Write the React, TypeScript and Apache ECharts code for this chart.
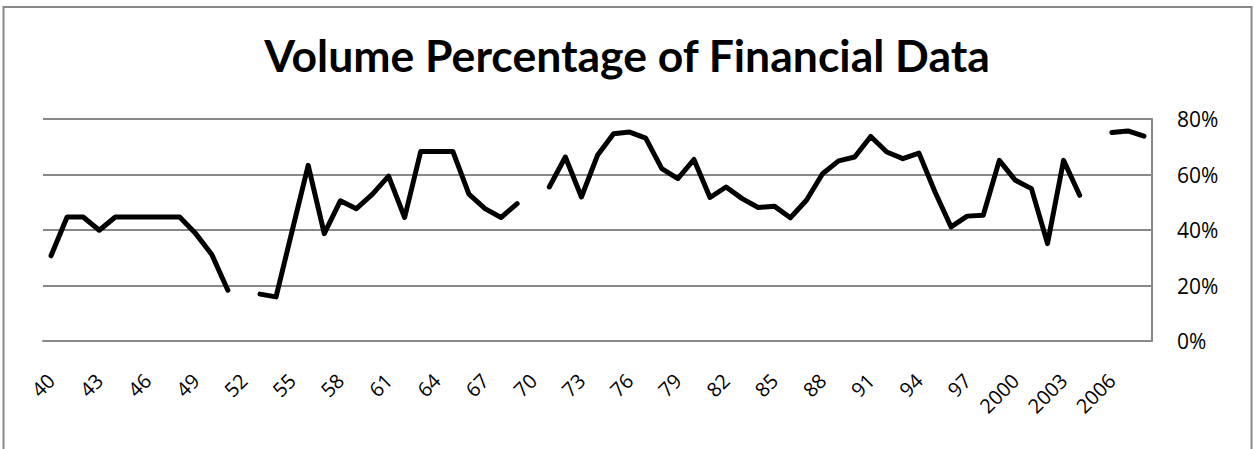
import React, { useEffect, useRef } from "react";
import * as echarts from "echarts";

const categories: string[] = [
  "40", "41", "42", "43", "44", "45", "46", "47", "48", "49",
  "50", "51", "52", "53", "54", "55", "56", "57", "58", "59",
  "60", "61", "62", "63", "64", "65", "66", "67", "68", "69",
  "70", "71", "72", "73", "74", "75", "76", "77", "78", "79",
  "80", "81", "82", "83", "84", "85", "86", "87", "88", "89",
  "90", "91", "92", "93", "94", "95", "96", "97", "98", "99",
  "2000", "2001", "2002", "2003", "2004", "2005", "2006", "2007", "2008",
];

const volumePct: (number | null)[] = [
  30.7, 44.7, 44.7, 39.9, 44.7, 44.7, 44.7, 44.7, 44.7, 38.7,
  31.2, 18.3, null, 16.9, 15.9, 39.7, 63.3, 38.7, 50.5, 47.7,
  52.9, 59.4, 44.5, 68.3, 68.3, 68.3, 52.9, 47.7, 44.5, 49.5,
  null, 55.5, 66.3, 51.9, 66.9, 74.7, 75.3, 73.1, 62.1, 58.5,
  65.4, 51.7, 55.5, 51.3, 48.1, 48.6, 44.4, 50.7, 60.3, 64.9,
  66.3, 73.7, 68.1, 65.7, 67.7, 53.7, 41.1, 45.0, 45.3, 65.1,
  57.9, 54.9, 35.1, 65.1, 52.5, null, 75.1, 75.7, 73.8,
];

const yTicks = { min: 0, max: 80, interval: 20 };
const titleText = "Volume Percentage of Financial Data";

export default function App() {
  const ref = useRef<HTMLDivElement>(null);
  useEffect(() => {
    if (!ref.current) return;
    const chart = echarts.init(ref.current, undefined, { renderer: "svg" });
    const font = "'Open Sans', sans-serif";
    chart.setOption({
      animation: false,
      backgroundColor: "#ffffff",
      title: {
        text: titleText,
        left: "center",
        top: 27,
        textStyle: {
          fontFamily: "Lato, sans-serif",
          fontWeight: "bold",
          fontSize: 44.5,
          color: "#000000",
        },
      },
      graphic: [
        {
          type: "rect",
          shape: { x: 3.5, y: 7, width: 1248, height: 460 },
          style: { fill: "none", stroke: "#888888", lineWidth: 2 },
          silent: true,
        },
      ],
      grid: { left: 43, right: 102, top: 119, bottom: 108, containLabel: false },
      xAxis: {
        type: "category",
        data: categories,
        boundaryGap: true,
        axisLine: { show: true, lineStyle: { color: "#888888", width: 2 } },
        axisTick: { show: false },
        axisLabel: {
          interval: 2,
          rotate: 45,
          margin: 36,
          fontFamily: font,
          fontSize: 20,
          color: "#000000",
        },
        splitLine: { show: false },
      },
      yAxis: {
        type: "value",
        position: "right",
        min: yTicks.min,
        max: yTicks.max,
        interval: yTicks.interval,
        axisLine: { show: true, lineStyle: { color: "#888888", width: 2 } },
        axisTick: { show: false },
        axisLabel: {
          formatter: "{value}%",
          margin: 25,
          fontFamily: font,
          fontSize: 21,
          color: "#000000",
        },
        splitLine: { show: true, lineStyle: { color: "#888888", width: 2 } },
      },
      series: [
        {
          type: "line",
          data: volumePct,
          showSymbol: false,
          connectNulls: false,
          lineStyle: { color: "#000000", width: 5, join: "round", cap: "round" },
          itemStyle: { color: "#000000" },
        },
      ],
    });
    return () => chart.dispose();
  }, []);
  return (
    <div
      ref={ref}
      style={{ position: "fixed", left: 0, top: 0, width: 1254, height: 449 }}
    />
  );
}
